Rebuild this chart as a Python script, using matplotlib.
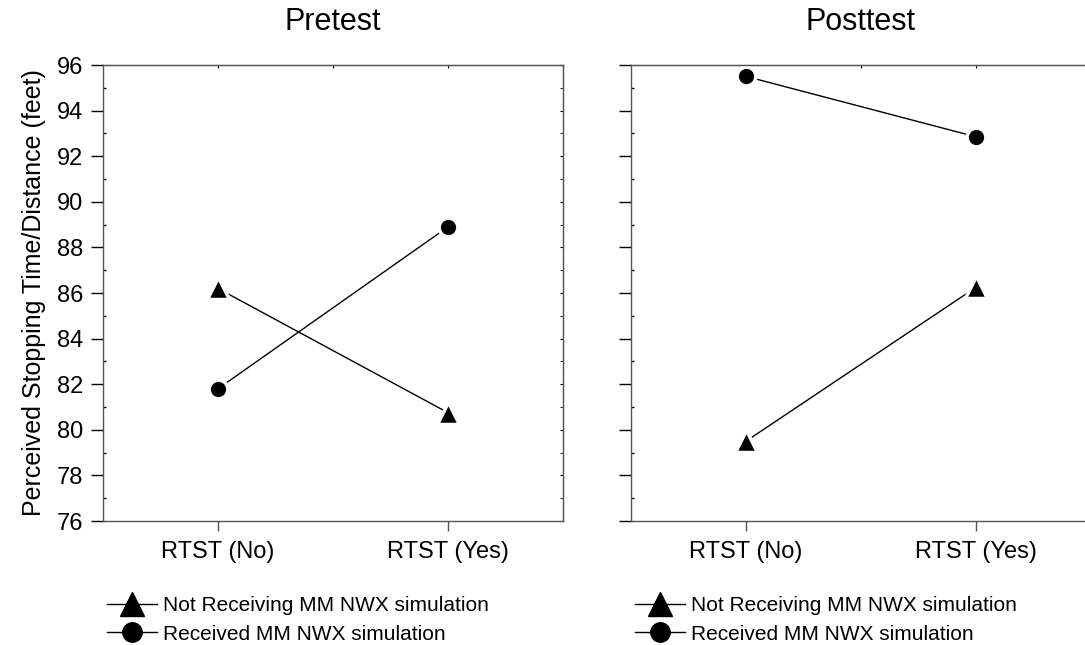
import numpy as np
import matplotlib.pyplot as plt
from matplotlib.lines import Line2D
from matplotlib.ticker import MultipleLocator

plt.rcParams['font.family'] = ['Liberation Sans', 'DejaVu Sans']

conditions = ['RTST (No)', 'RTST (Yes)']
panels = ['Pretest', 'Posttest']
series_names = ['Not Receiving MM NWX simulation', 'Received MM NWX simulation']

# valores
not_receiving = {'Pretest': [86.2, 80.75], 'Posttest': [79.5, 86.25]}
received = {'Pretest': [81.8, 88.9], 'Posttest': [95.5, 92.85]}

fig = plt.figure(figsize=(10.85, 6.45), dpi=100)
ax_left = fig.add_axes([103 / 1085, 1 - 521 / 645, 460 / 1085, 456 / 645])
ax_right = fig.add_axes([631 / 1085, 1 - 521 / 645, 460 / 1085, 456 / 645])

x = np.arange(1, len(conditions) + 1)
spine_col = '#555555'

# en la leyenda la linea toca el marcador
handles = [Line2D([], [], color='black', lw=1, marker='^', ms=17, mfc='black', mec='black'),
           Line2D([], [], color='black', lw=1, marker='o', ms=14, mfc='black', mec='black')]

for ax, panel in zip([ax_left, ax_right], panels):
    ax.plot(x, not_receiving[panel], color='black', lw=1, marker='^', ms=16,
            mfc='black', mec='white', mew=2.5, label=series_names[0])
    ax.plot(x, received[panel], color='black', lw=1, marker='o', ms=13.5,
            mfc='black', mec='white', mew=2.5, label=series_names[1])
    ax.set_xlim(0.5, 2.5)
    ax.set_ylim(76, 96)
    ax.yaxis.set_major_locator(MultipleLocator(2))
    ax.yaxis.set_minor_locator(MultipleLocator(1))
    ax.set_xticks(x)
    ax.set_xticks([1.5], minor=True)
    ax.set_xticklabels(conditions, fontsize=17)
    ax.tick_params(axis='y', which='major', direction='out', length=9, width=1,
                   color='black', labelsize=17, pad=5)
    ax.tick_params(axis='y', which='minor', direction='in', length=2.5, width=1, color='black')
    ax.tick_params(axis='x', which='major', direction='out', length=7.5, width=1,
                   color=spine_col, labelsize=17, pad=7)
    ax.tick_params(axis='x', which='minor', length=0)
    for s in ax.spines.values():
        s.set_color(spine_col)
        s.set_linewidth(1)
    ax.set_title(panel, fontsize=22, pad=25)

    # ticks interiores en el eje superior y derecho
    top = ax.secondary_xaxis('top')
    top.set_xticks([1, 1.5, 2])
    top.tick_params(direction='in', length=2.5, labeltop=False, color='black')
    right = ax.secondary_yaxis('right')
    right.yaxis.set_major_locator(MultipleLocator(2))
    right.yaxis.set_minor_locator(MultipleLocator(1))
    right.tick_params(which='both', direction='in', length=2.5, labelright=False, color='black')
    right.spines['right'].set_color(spine_col)

    ax.legend(handles, series_names, loc='upper left', bbox_to_anchor=(0.008, -0.165),
              frameon=False, fontsize=15, handlelength=2.4, handletextpad=0.3,
              labelspacing=0.45, borderaxespad=0, borderpad=0)

ax_right.tick_params(axis='y', which='major', labelleft=False)
ax_left.set_ylabel('Perceived Stopping Time/Distance (feet)', fontsize=18, labelpad=8)

fig.savefig('out.png', dpi=100)
